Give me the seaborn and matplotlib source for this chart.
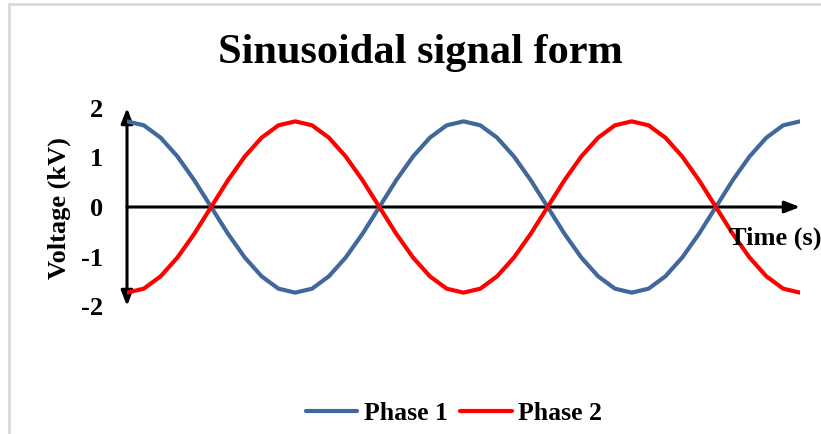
import numpy as np
import pandas as pd
import matplotlib.pyplot as plt
import seaborn as sns
from matplotlib.lines import Line2D

# Veriler
time_steps = list(range(41))
phase1 = [1.73, 1.65, 1.40, 1.02, 0.54, 0.00, -0.54, -1.02, -1.40, -1.65,
          -1.73, -1.65, -1.40, -1.02, -0.54, 0.00, 0.54, 1.02, 1.40, 1.65,
          1.73, 1.65, 1.40, 1.02, 0.54, 0.00, -0.54, -1.02, -1.40, -1.65,
          -1.73, -1.65, -1.40, -1.02, -0.54, 0.00, 0.54, 1.02, 1.40, 1.65,
          1.73]
phase2 = [-1.73, -1.65, -1.40, -1.02, -0.54, 0.00, 0.54, 1.02, 1.40, 1.65,
          1.73, 1.65, 1.40, 1.02, 0.54, 0.00, -0.54, -1.02, -1.40, -1.65,
          -1.73, -1.65, -1.40, -1.02, -0.54, 0.00, 0.54, 1.02, 1.40, 1.65,
          1.73, 1.65, 1.40, 1.02, 0.54, 0.00, -0.54, -1.02, -1.40, -1.65,
          -1.73]
series_names = ["Phase 1", "Phase 2"]
y_ticks = [-2, -1, 0, 1, 2]
colors = {"Phase 1": "#41689A", "Phase 2": "#FF0000"}

df = pd.DataFrame({"time": time_steps * 2,
                   "voltage": phase1 + phase2,
                   "phase": [series_names[0]] * len(phase1) + [series_names[1]] * len(phase2)})

sns.set_style("white")
plt.rcParams["font.family"] = ["Liberation Serif", "DejaVu Serif"]
plt.rcParams["font.weight"] = "bold"
plt.rcParams["text.color"] = "black"
plt.rcParams["axes.labelcolor"] = "black"
plt.rcParams["ytick.color"] = "black"

fig = plt.figure(figsize=(8.21, 4.34), dpi=100)
ax = fig.add_axes([127 / 821, 128 / 434, 673 / 821, 198 / 434])

sns.lineplot(data=df, x="time", y="voltage", hue="phase", palette=colors,
             linewidth=3, legend=False, ax=ax, zorder=3)

ax.set_xlim(0, 40)
ax.set_ylim(-2, 2)
for s in ax.spines.values():
    s.set_visible(False)
ax.set_xticks([])
ax.set_yticks(y_ticks)
ax.set_yticklabels([str(t) for t in y_ticks], fontsize=19, fontweight="bold", color="black")
ax.tick_params(axis="y", length=0, pad=17)
ax.set_xlabel("")
ax.set_ylabel("")

# eksen oklari
ax.annotate("", xy=(0, 2.0), xytext=(0, -2.0), xycoords="data",
            arrowprops=dict(arrowstyle="<|-|>,head_length=0.9,head_width=0.35",
                            color="black", lw=2.2, shrinkA=0, shrinkB=0),
            annotation_clip=False, zorder=2)
ax.annotate("", xy=(40, 0), xytext=(0, 0), xycoords="data",
            arrowprops=dict(arrowstyle="-|>,head_length=0.9,head_width=0.35",
                            color="black", lw=2.2, shrinkA=0, shrinkB=0),
            annotation_clip=False, zorder=2)

fig.text(59 / 821, 1 - 208 / 434, "Voltage (kV)", fontsize=19, fontweight="bold",
         rotation=90, ha="center", va="center")
fig.text(775 / 821, 1 - 238 / 434, "Time (s)", fontsize=19, fontweight="bold",
         ha="center", va="center")

fig.text(420 / 821, 1 - 53 / 434, "Sinusoidal signal form", fontsize=30.5,
         fontweight="bold", ha="center", va="center")

handles = [Line2D([0], [0], color=colors[n], lw=3) for n in series_names]
fig.legend(handles, series_names, loc="center", bbox_to_anchor=(454 / 821, 1 - 413 / 434),
           ncol=2, frameon=False, prop={"size": 18.5, "weight": "bold"},
           handlelength=2.0, columnspacing=0.5, handletextpad=0.25)

# grafik cercevesi
fig.add_artist(Line2D([8.5 / 821, 8.5 / 821], [0, 1 - 4 / 434], transform=fig.transFigure,
                      color="#d9d9d9", lw=2))
fig.add_artist(Line2D([8.5 / 821, 1], [1 - 4 / 434, 1 - 4 / 434], transform=fig.transFigure,
                      color="#d9d9d9", lw=2))

fig.savefig("out.png", dpi=100)
